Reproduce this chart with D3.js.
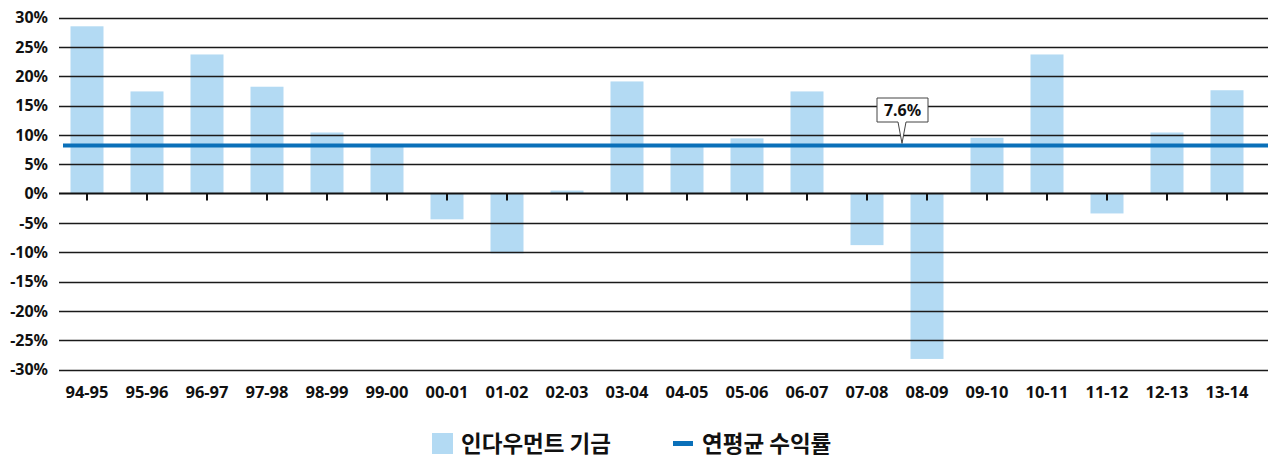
<!DOCTYPE html>
<html>
<head>
<meta charset="utf-8">
<script src="https://cdn.jsdelivr.net/npm/d3@7/dist/d3.min.js"></script>
<style>
  body { margin:0; background:#fff; }
  svg text { font-family: "Noto Sans", "DejaVu Sans", sans-serif; }
</style>
</head>
<body>
<div id="chart"></div>
<script>
(function () {
  "use strict";

  // data
  var years = ["94-95","95-96","96-97","97-98","98-99","99-00","00-01","01-02","02-03","03-04",
               "04-05","05-06","06-07","07-08","08-09","09-10","10-11","11-12","12-13","13-14"];
  var fundReturns = [28.5, 17.4, 23.7, 18.2, 10.4, 8.0, -4.4, -10.2, 0.5, 19.1,
                     8.0, 9.4, 17.4, -8.8, -28.2, 9.5, 23.7, -3.4, 10.4, 17.6];
  var avgLineValue = 8.2;
  var avgLabel = "7.6%";
  var yTicks = [30, 25, 20, 15, 10, 5, 0, -5, -10, -15, -20, -25, -30];
  var legendNames = ["인다우먼트 기금", "연평균 수익률"];

  var width = 1268, height = 458;
  var barColor = "#b3daf3", lineColor = "#0a70b9";

  var svg = d3.select("#chart").append("svg")
    .attr("width", width)
    .attr("height", height);

  var x = d3.scaleBand().domain(years).range([57, 1257]).paddingInner(0.45).paddingOuter(0.225);
  var y = d3.scaleLinear().domain([-30, 30]).range([369.5, 17.5]);
  var plotLeft = 59, plotRight = 1268;

  // bars
  svg.append("g").selectAll("rect")
    .data(fundReturns)
    .enter().append("rect")
    .attr("x", function(d, i){ return x(years[i]); })
    .attr("width", x.bandwidth())
    .attr("y", function(d){ return y(Math.max(0, d)); })
    .attr("height", function(d){ return Math.abs(y(d) - y(0)); })
    .attr("fill", barColor);

  // grid lines on top of bars
  svg.append("g").selectAll("line")
    .data(yTicks.filter(function(t){ return t !== 0; }))
    .enter().append("line")
    .attr("x1", plotLeft).attr("x2", plotRight)
    .attr("y1", function(d){ return Math.round(y(d)) + 0.5; })
    .attr("y2", function(d){ return Math.round(y(d)) + 0.5; })
    .attr("stroke", "#1a1a1a")
    .attr("stroke-width", 1.4);

  // y labels
  svg.append("g").selectAll("text")
    .data(yTicks)
    .enter().append("text")
    .attr("x", 48)
    .attr("y", function(d){ return y(d); })
    .attr("dy", "0.36em")
    .attr("text-anchor", "end")
    .attr("font-size", "16px")
    .attr("font-weight", "bold")
    .attr("fill", "#111")
    .text(function(d){ return d + "%"; });

  // zero axis with ticks
  var xAxis = d3.axisBottom(x).tickSize(7).tickFormat("");
  var axisG = svg.append("g")
    .attr("transform", "translate(0," + y(0) + ")")
    .call(xAxis);
  axisG.select(".domain").remove();
  axisG.selectAll(".tick line").attr("stroke", "#111").attr("stroke-width", 2);
  svg.append("line")
    .attr("x1", plotLeft).attr("x2", plotRight)
    .attr("y1", y(0)).attr("y2", y(0))
    .attr("stroke", "#111").attr("stroke-width", 2.2);

  // x labels
  svg.append("g").selectAll("text")
    .data(years)
    .enter().append("text")
    .attr("x", function(d){ return x(d) + x.bandwidth() / 2; })
    .attr("y", 392)
    .attr("dy", "0.36em")
    .attr("text-anchor", "middle")
    .attr("font-size", "16.5px")
    .attr("font-weight", "bold")
    .attr("fill", "#111")
    .text(function(d){ return d; });

  // average line
  svg.append("line")
    .attr("x1", 63).attr("x2", plotRight)
    .attr("y1", y(avgLineValue)).attr("y2", y(avgLineValue))
    .attr("stroke", lineColor).attr("stroke-width", 4);

  // callout
  var cx = 902, boxTop = 98, boxBottom = 122, tipY = y(avgLineValue) - 2;
  svg.append("path")
    .attr("d", "M877," + boxTop + "H928V" + boxBottom + "H906L" + cx + "," + tipY +
               "L898," + boxBottom + "H877Z")
    .attr("fill", "#fff")
    .attr("stroke", "#444")
    .attr("stroke-width", 1);
  svg.append("text")
    .attr("x", 902.5).attr("y", 110)
    .attr("dy", "0.36em")
    .attr("text-anchor", "middle")
    .attr("font-size", "16px")
    .attr("font-weight", "bold")
    .attr("fill", "#111")
    .text(avgLabel);

  // legend
  var leg = svg.append("g");
  leg.append("rect").attr("x", 432).attr("y", 433).attr("width", 21).attr("height", 21).attr("fill", barColor);
  leg.append("text").attr("x", 461).attr("y", 444).attr("dy", "0.36em")
    .attr("font-size", "22.5px").attr("font-weight", "bold")
    .style("font-family", "'Noto Sans CJK KR', sans-serif")
    .attr("fill", "#111").text(legendNames[0]);
  leg.append("rect").attr("x", 673).attr("y", 441).attr("width", 20).attr("height", 5).attr("fill", lineColor);
  leg.append("text").attr("x", 702).attr("y", 444).attr("dy", "0.36em")
    .attr("font-size", "22.5px").attr("font-weight", "bold")
    .style("font-family", "'Noto Sans CJK KR', sans-serif")
    .attr("fill", "#111").text(legendNames[1]);
}());
</script>
</body>
</html>
